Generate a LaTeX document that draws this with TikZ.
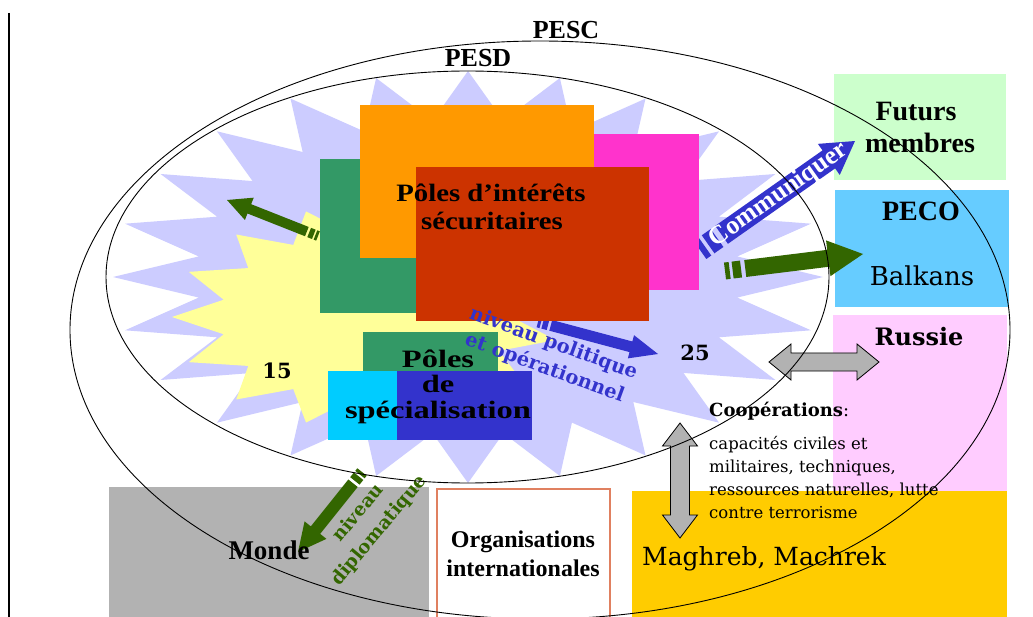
\documentclass[tikz,border=0pt]{standalone}
\usepackage{fontspec}
\newfontfamily\tms{Liberation Serif}
\newfontfamily\tmsA{Liberation Serif}[FakeStretch=1.15]
\newfontfamily\tmsB{Liberation Serif}[FakeStretch=1.3]
\newfontfamily\djs{DejaVu Serif}
\definecolor{lav}{HTML}{CCCCFF}
\definecolor{yel}{HTML}{FFFF99}
\definecolor{gbox}{HTML}{339966}
\definecolor{orng}{HTML}{FF9900}
\definecolor{magb}{HTML}{FF33CC}
\definecolor{redb}{HTML}{CC3300}
\definecolor{cyanb}{HTML}{00CCFF}
\definecolor{blu}{HTML}{3333CC}
\definecolor{garr}{HTML}{336600}
\definecolor{futc}{HTML}{CCFFCC}
\definecolor{pecoc}{HTML}{66CCFF}
\definecolor{rusc}{HTML}{FFCCFF}
\definecolor{maghc}{HTML}{FFCC00}
\definecolor{gry}{HTML}{B2B2B2}
\definecolor{orgb}{HTML}{E08060}
% striped block arrow: x1 y1 (tail) x2 y2 (tip) shaft-half head-half head-length colour
\newcommand\stripedarrow[8]{%
  \pgfmathsetmacro\arA{atan2(-(#4-#2),#3-#1)}%
  \pgfmathsetmacro\arL{veclen(#3-#1,#4-#2)}%
  \begin{scope}[shift={(#1,#2)},rotate=\arA]
    \fill[#8] (0,-#5) -- ({0.55*#5},-#5) -- ({0.55*#5},#5) -- (0,#5) -- cycle;
    \fill[#8] ({0.9*#5},-#5) -- ({1.9*#5},-#5) -- ({1.9*#5},#5) -- ({0.9*#5},#5) -- cycle;
    \fill[#8] ({2.4*#5},-#5) -- ({\arL-#7},-#5) -- ({\arL-#7},-#6) -- (\arL,0)
      -- ({\arL-#7},#6) -- ({\arL-#7},#5) -- ({2.4*#5},#5) -- cycle;
  \end{scope}}
% double block arrow: x1 y1 x2 y2 shaft-half head-half head-length
\newcommand\dblarrow[7]{%
  \pgfmathsetmacro\arA{atan2(-(#4-#2),#3-#1)}%
  \pgfmathsetmacro\arL{veclen(#3-#1,#4-#2)}%
  \begin{scope}[shift={(#1,#2)},rotate=\arA]
    \filldraw[fill=gry, draw=black, line width=0.8pt] (0,0) -- (#7,-#6) -- (#7,-#5)
      -- ({\arL-#7},-#5) -- ({\arL-#7},-#6) -- (\arL,0) -- ({\arL-#7},#6)
      -- ({\arL-#7},#5) -- (#7,#5) -- (#7,#6) -- cycle;
  \end{scope}}
\tikzset{
  tb/.style={inner sep=0pt, font=\tms\bfseries\fontsize{#1}{#1}\selectfont},
  db/.style={inner sep=0pt, font=\djs\bfseries\fontsize{#1}{#1}\selectfont},
  dr/.style={inner sep=0pt, font=\djs\fontsize{#1}{#1}\selectfont},
  ring/.style={draw=black, line width=0.9pt},
}
\begin{document}
\begin{tikzpicture}[x=1pt,y=-1pt]
\useasboundingbox (0,0) rectangle (1033,617);
\fill[white] (0,0) rectangle (1033,617);
\draw[line width=2pt] (9,13) -- (9,617);
% outer boxes
\fill[futc] (834,74) rectangle (1006,180);
\fill[pecoc] (835,190) rectangle (1009,307);
\fill[rusc] (833,315) rectangle (1007,491);
\fill[maghc] (632,491) rectangle (1007,617);
\fill[gry] (109,487) rectangle (429,617);
\draw[orgb, line width=1.2pt, fill=white] (437,489) rectangle (610,622);
% stars
\fill[lav] plot[variable=\t, samples at={0,7.5,...,352.5}]
  ({468+355*(1-0.235*mod(round(\t/7.5),2))*cos(\t)},
   {277+206*(1-0.235*mod(round(\t/7.5),2))*sin(\t)}) -- cycle;
\fill[yel] plot[variable=\t, samples at={180,192,...,528}]
  ({366+194*(1-0.25*mod(round((\t-180)/12),2))*cos(\t)},
   {317+111*(1-0.25*mod(round((\t-180)/12),2))*sin(\t)}) -- cycle;
% arrows
\stripedarrow{318}{236}{227}{200}{5}{12}{24}{garr}
\stripedarrow{538}{322}{658}{354}{5.5}{12}{28}{blu}
\stripedarrow{700}{250}{855}{141}{11}{19}{32}{blu}
\stripedarrow{725}{271}{863}{254}{8.5}{18}{35}{garr}
\stripedarrow{362}{472}{298}{552}{6}{14}{28}{garr}
% central boxes
\fill[gbox] (320,159) rectangle (440,313);
\fill[magb] (560,134) rectangle (699,290);
\fill[orng] (360,105) rectangle (594,258);
\fill[redb] (416,167) rectangle (649,321);
\fill[gbox] (363,332) rectangle (498,372);
\fill[cyanb] (328,371) rectangle (397,440);
\fill[blu] (397,371) rectangle (532,440);
% double arrows
\dblarrow{769}{362}{879}{362}{9}{18}{22}
\dblarrow{680}{423}{680}{538}{9.5}{17.5}{23}
% texts
\node[tb=26, anchor=base] (pesc) at (566,39) {PESC};
\node[tb=26, anchor=base] (pesd) at (478,67) {PESD};
\node[inner sep=0pt, font=\tmsA\bfseries\fontsize{25}{25}\selectfont, anchor=base] (pi1) at (491,202) {Pôles d’intérêts};
\node[inner sep=0pt, font=\tmsA\bfseries\fontsize{25}{25}\selectfont, anchor=base] (pi2) at (492,230) {sécuritaires};
\node[inner sep=0pt, font=\tmsB\bfseries\fontsize{25}{25}\selectfont, anchor=base] (ps1) at (438,367) {Pôles};
\node[inner sep=0pt, font=\tmsB\bfseries\fontsize{25}{25}\selectfont, anchor=base] (ps2) at (438,392) {de};
\node[inner sep=0pt, font=\tmsB\bfseries\fontsize{25}{25}\selectfont, anchor=base] (ps3) at (438,418) {spécialisation};
\node[db=21, anchor=base] (n15) at (277,378) {15};
\node[db=21, anchor=base] (n25) at (695,361) {25};
\node[tb=28, anchor=base] (fut1) at (916,121) {Futurs};
\node[tb=28, anchor=base] (fut2) at (920,153) {membres};
\node[tb=28, anchor=base] (peco) at (921,221) {PECO};
\node[dr=26, anchor=base] (balk) at (922,286) {Balkans};
\node[db=24, anchor=base] (russ) at (919,346) {Russie};
\node[dr=25, anchor=base west] (magh) at (642,565) {Maghreb, Machrek};
\node[dr=18, anchor=base west] (coop) at (709,416) {{\bfseries Coopérations}:};
\node[dr=16.5, anchor=base west] (c1) at (709,449) {capacités civiles et};
\node[dr=16.5, anchor=base west] (c2) at (709,472) {militaires, techniques,};
\node[dr=16.5, anchor=base west] (c3) at (709,495) {ressources naturelles, lutte};
\node[dr=16.5, anchor=base west] (c4) at (709,518) {contre terrorisme};
\node[tb=27, anchor=base] (monde) at (269,559) {Monde};
\node[tb=24, anchor=base] (org1) at (523,547) {Organisations};
\node[tb=24, anchor=base] (org2) at (523,576) {internationales};
\node[inner sep=0pt, font=\tms\bfseries\fontsize{26}{26}\selectfont, text=white, rotate=35.1] (comm) at (779,195) {Communiquer};
\node[inner sep=0pt, font=\djs\bfseries\fontsize{19.5}{26}\selectfont, text=blu, align=center, rotate=-20] (npol) at (549,356) {niveau politique\\et opérationnel};
\node[inner sep=0pt, font=\djs\bfseries\fontsize{18.5}{27}\selectfont, text=garr, align=center, rotate=50] (ndip) at (369,522) {niveau\\diplomatique};
% ellipses
\draw[ring] (540,330) ellipse [x radius=470pt, y radius=289pt];
\draw[ring] (467.5,277) ellipse [x radius=361.5pt, y radius=206pt];
\end{tikzpicture}
\end{document}
